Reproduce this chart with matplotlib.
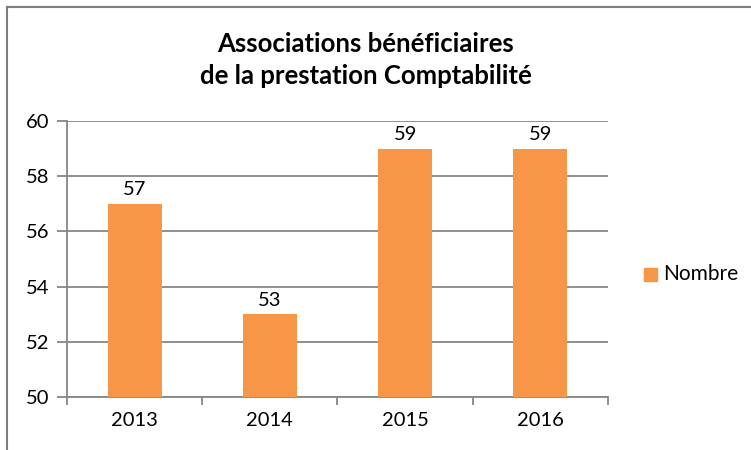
import matplotlib.pyplot as plt
from matplotlib.patches import Rectangle

# Chart data
years = ['2013', '2014', '2015', '2016']
nombre = [57, 53, 59, 59]

barColor = '#F79646'
gridColor = '#868686'

plt.rcParams['font.family'] = ['Lato', 'DejaVu Sans']

fig = plt.figure(figsize=(7.51, 4.5), dpi=100)
W, H = 751, 450
ax = fig.add_axes([67 / W, 1 - 397 / H, (608 - 67) / W, (397 - 121) / H])

positions = range(len(years))
bars = ax.bar(positions, [v - 50 for v in nombre], bottom=50, width=0.4,
              color=barColor, label='Nombre', zorder=3)

# Value labels above each bar
for x, v in zip(positions, nombre):
	ax.text(x, v + 0.2, str(v), ha='center', va='bottom', fontsize=14.5, color='#000000')

ax.set_xlim(-0.5, len(years) - 0.5)
ax.set_ylim(50, 60)
ax.set_yticks(range(50, 61, 2))
ax.set_xticks(positions)
ax.set_xticklabels(years)
ax.tick_params(axis='x', length=0, pad=11, labelsize=14.5)
ax.tick_params(axis='y', length=7, width=1.3, color=gridColor, pad=6, labelsize=14.5)

# Tick marks at category boundaries on the x axis
ax.set_xticks([i - 0.5 for i in range(len(years) + 1)], minor=True)
ax.tick_params(axis='x', which='minor', length=6, width=1.3, color=gridColor, direction='out')

ax.yaxis.grid(True, color=gridColor, linewidth=1.3, zorder=0)
for side in ['top', 'right']:
	ax.spines[side].set_visible(False)
for side in ['left', 'bottom']:
	ax.spines[side].set_color(gridColor)
	ax.spines[side].set_linewidth(1.3)

# Title
fig.text(366 / W, 1 - 44 / H, 'Associations bénéficiaires', ha='center', va='center',
         fontsize=18.5, fontweight='bold')
fig.text(366 / W, 1 - 76 / H, 'de la prestation Comptabilité', ha='center', va='center',
         fontsize=18.5, fontweight='bold')

# Legend
fig.patches.append(Rectangle((644 / W, 1 - 281 / H), 13 / W, 13 / H,
                             transform=fig.transFigure, color=barColor))
fig.text(663 / W, 1 - 274 / H, 'Nombre', ha='left', va='center', fontsize=15)

# Outer chart frame
fig.add_artist(plt.Line2D([7 / W, 7 / W], [0, 1 - 7 / H], transform=fig.transFigure,
                          color='#7f7f7f', linewidth=1.5))
fig.add_artist(plt.Line2D([7 / W, 1], [1 - 7 / H, 1 - 7 / H], transform=fig.transFigure,
                          color='#7f7f7f', linewidth=1.5))

fig.savefig('out.png', dpi=100)
